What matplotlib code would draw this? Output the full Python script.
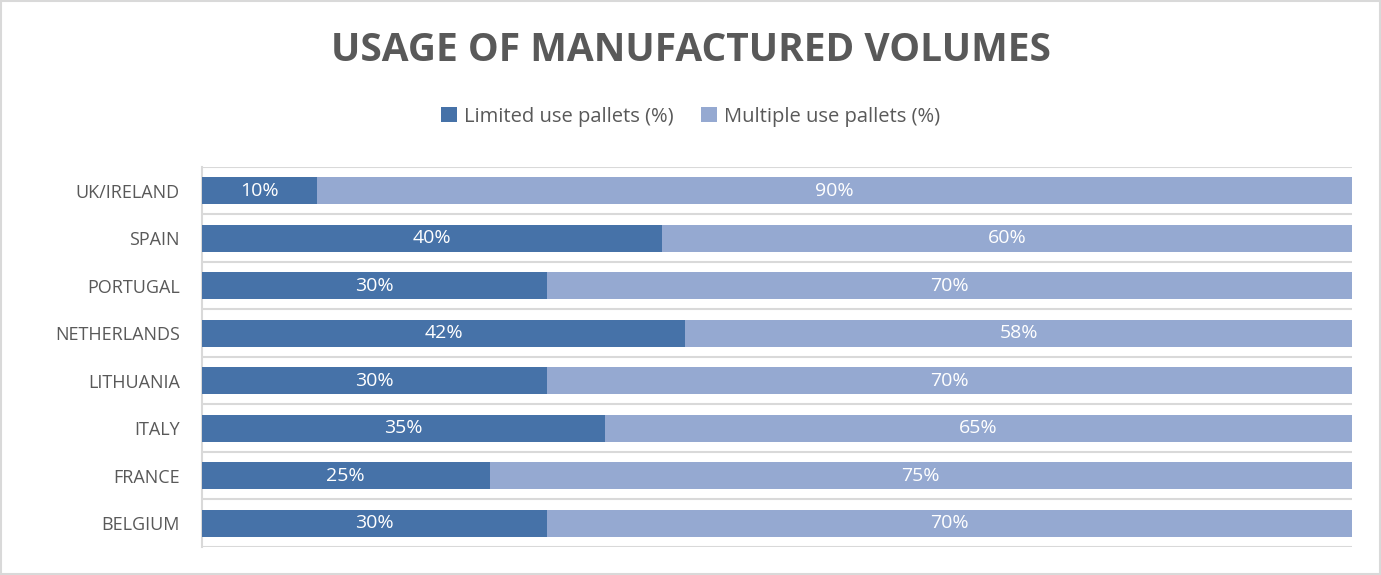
import matplotlib.pyplot as plt
import numpy as np

countries = ['UK/IRELAND', 'SPAIN', 'PORTUGAL', 'NETHERLANDS',
             'LITHUANIA', 'ITALY', 'FRANCE', 'BELGIUM']
limited = [10, 40, 30, 42, 30, 35, 25, 30]
multiple = [90, 60, 70, 58, 70, 65, 75, 70]
series_names = ['Limited use pallets (%)', 'Multiple use pallets (%)']

dark = '#4672a8'
light = '#95a9d1'
txt = '#595959'

plt.rcParams['font.family'] = ['Open Sans', 'DejaVu Sans']

fig = plt.figure(figsize=(13.81, 5.75), dpi=100)
ax = fig.add_axes([0.1463, 0.0487, 0.979 - 0.1463, 0.7096 - 0.0487])

y = np.arange(len(countries))[::-1]
b1 = ax.barh(y, limited, height=0.57, color=dark, label=series_names[0], zorder=3)
b2 = ax.barh(y, multiple, left=limited, height=0.57, color=light,
             label=series_names[1], zorder=3)

for bars, vals in ((b1, limited), (b2, multiple)):
    ax.bar_label(bars, labels=[f'{v}%' for v in vals], label_type='center',
                 color='white', fontsize=14)

ax.set_xlim(0, 100)
ax.set_ylim(-0.5, len(countries) - 0.5)
ax.set_yticks(y)
ax.set_yticklabels(countries, fontsize=13, color=txt)
ax.tick_params(axis='y', length=0, pad=16)
ax.set_xticks([])
for b in np.arange(-0.5, len(countries), 1):
    ax.axhline(b, color='#d9d9d9', lw=1.5, zorder=1)
for s in ['top', 'right', 'bottom']:
    ax.spines[s].set_visible(False)
ax.spines['left'].set_color('#d9d9d9')
ax.spines['left'].set_linewidth(1.5)

fig.text(0.5, 0.912, 'USAGE OF MANUFACTURED VOLUMES', ha='center', va='center',
         fontsize=28, fontweight='bold', color=txt)
fig.legend(loc='center', bbox_to_anchor=(0.5, 0.797), ncol=2, frameon=False,
           fontsize=14.5, labelcolor=txt, handlelength=0.8, handleheight=0.8,
           handletextpad=0.3, columnspacing=1.4)

fig.patches.append(plt.Rectangle((0.001, 0.002), 0.998, 0.996, transform=fig.transFigure,
                                 fill=False, edgecolor='#d9d9d9', lw=1.5))

fig.savefig('out.png', dpi=100)
